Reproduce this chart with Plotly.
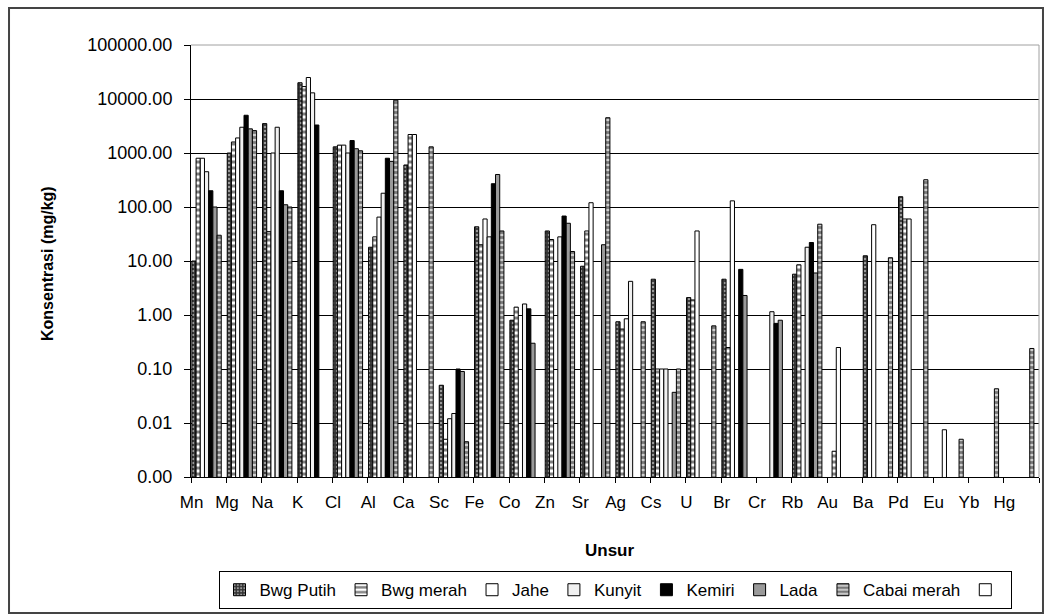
import plotly.graph_objects as go

categories = ["Mn", "Mg", "Na", "K", "Cl", "Al", "Ca", "Sc", "Fe", "Co", "Zn", "Sr",
              "Ag", "Cs", "U", "Br", "Cr", "Rb", "Au", "Ba", "Pd", "Eu", "Yb", "Hg"]

bwg_putih = [10, 1000, 3500, 20000, 1300, 18, 600, 0.05, 43, 0.8, 36, 8,
             0.75, 4.6, 2.1, 4.6, None, 5.7, None, 12.5, 155, None, None, None]
bwg_merah = [800, 1600, 35, 17000, 1400, 28, 2200, 0.005, 20, 1.4, 25, 36,
             0.55, 0.1, 1.9, 0.25, None, 8.5, 0.003, None, 60, None, None, None]
jahe = [800, 1900, 1000, 25000, 1400, 65, 2200, 0.012, 60, None, None, 120,
        0.85, 0.1, 36, 130, None, None, 0.25, 47, 60, 0.0075, None, None]
kunyit = [450, 3000, 3000, 13000, 1000, 180, None, 0.015, 28, 1.6, 28, None,
          4.2, 0.1, None, None, 1.15, 18, None, None, None, None, None, None]
kemiri = [200, 5000, 200, 3300, 1700, 800, None, 0.1, 270, 1.3, 68, None,
          None, None, None, 7, 0.7, 22, None, None, None, None, None, None]
lada = [100, 2800, 110, None, 1200, 700, None, 0.09, 400, 0.3, 50, 20,
        None, 0.037, None, 2.3, 0.8, 6, None, None, None, None, None, None]
cabai_merah = [30, 2600, 100, None, 1100, 9500, 1300, 0.0045, 36, None, 15, 4500,
               0.75, 0.1, 0.63, None, None, 48, None, 11.5, 320, 0.005, 0.043, 0.24]
kosong = [None] * len(categories)

series_names = ["Bwg Putih", "Bwg merah", "Jahe", "Kunyit", "Kemiri", "Lada", "Cabai merah", ""]
series_values = [bwg_putih, bwg_merah, jahe, kunyit, kemiri, lada, cabai_merah, kosong]

tick_vals = [0.001, 0.01, 0.1, 1, 10, 100, 1000, 10000, 100000]
tick_text = ["0.00", "0.01", "0.10", "1.00", "10.00", "100.00", "1000.00", "10000.00", "100000.00"]

styles = [
    dict(color="#333333", pattern=dict(shape=".", fgcolor="#ffffff", bgcolor="#333333", size=4, solidity=0.3)),
    dict(color="#ffffff", pattern=dict(shape="-", fgcolor="#000000", bgcolor="#ffffff", size=6, solidity=0.5)),
    dict(color="#ffffff"),
    dict(color="#f0f0f0"),
    dict(color="#000000"),
    dict(color="#9a9a9a"),
    dict(color="#ffffff", pattern=dict(shape="-", fgcolor="#222222", bgcolor="#cfcfcf", size=5, solidity=0.55)),
    dict(color="#ffffff"),
]

FONT = "Liberation Sans, Arial, sans-serif"

fig = go.Figure()
for name, vals, st in zip(series_names, series_values, styles):
    marker = dict(color=st["color"], line=dict(color="#000000", width=1))
    if "pattern" in st:
        marker["pattern"] = st["pattern"]
    fig.add_trace(go.Bar(x=categories, y=vals, name=name, marker=marker,
                         showlegend=True))

fig.update_layout(
    width=1044, height=615,
    margin=dict(l=191, r=5, t=45, b=138),
    paper_bgcolor="white", plot_bgcolor="white",
    barmode="group", bargap=0.05, bargroupgap=0,
    font=dict(family=FONT, color="#000000", size=17),
    showlegend=True,
    legend=dict(orientation="h", x=0.5, xanchor="center", y=-0.218, yanchor="top",
                bordercolor="#000000", borderwidth=1, itemwidth=30,
                font=dict(family=FONT, size=17), bgcolor="white",
                traceorder="normal"),
)

fig.update_yaxes(type="log", range=[-3, 5], tickvals=tick_vals, ticktext=tick_text,
                 showgrid=True, gridcolor="#000000", gridwidth=1,
                 showline=True, linecolor="#000000", linewidth=1,
                 ticks="outside", ticklen=6, tickcolor="#000000",
                 tickfont=dict(family=FONT, size=18), ticklabelstandoff=8,
                 zeroline=False)
fig.update_xaxes(type="category", showgrid=False,
                 showline=True, linecolor="#000000", linewidth=1,
                 ticks="outside", ticklen=5, tickcolor="#000000", tickson="boundaries",
                 tickfont=dict(family=FONT, size=17), ticklabelshift=-17,
                 ticklabelstandoff=10)

# axis titles
fig.add_annotation(text="<b>Konsentrasi (mg/kg)</b>", xref="paper", yref="paper",
                   x=-0.170, y=0.495, textangle=-90, showarrow=False,
                   xanchor="center", yanchor="middle", font=dict(family=FONT, size=16))
fig.add_annotation(text="<b>Unsur</b>", xref="paper", yref="paper",
                   x=0.494, y=-0.171, showarrow=False,
                   xanchor="center", yanchor="middle", font=dict(family=FONT, size=17))

# plot-area border (top/right, gray) and outer chart frame
fig.add_shape(type="line", xref="paper", yref="paper", x0=0, x1=1, y0=1, y1=1,
              line=dict(color="#a0a0a0", width=1), layer="above")
fig.add_shape(type="line", xref="paper", yref="paper", x0=1, x1=1, y0=0, y1=1,
              line=dict(color="#a0a0a0", width=1), layer="above")
fig.add_shape(type="rect", xref="paper", yref="paper",
              x0=-0.2146, x1=1.0047, y0=-0.315, y1=1.0856,
              line=dict(color="#444444", width=2), layer="above")

fig.write_html("out.html")
